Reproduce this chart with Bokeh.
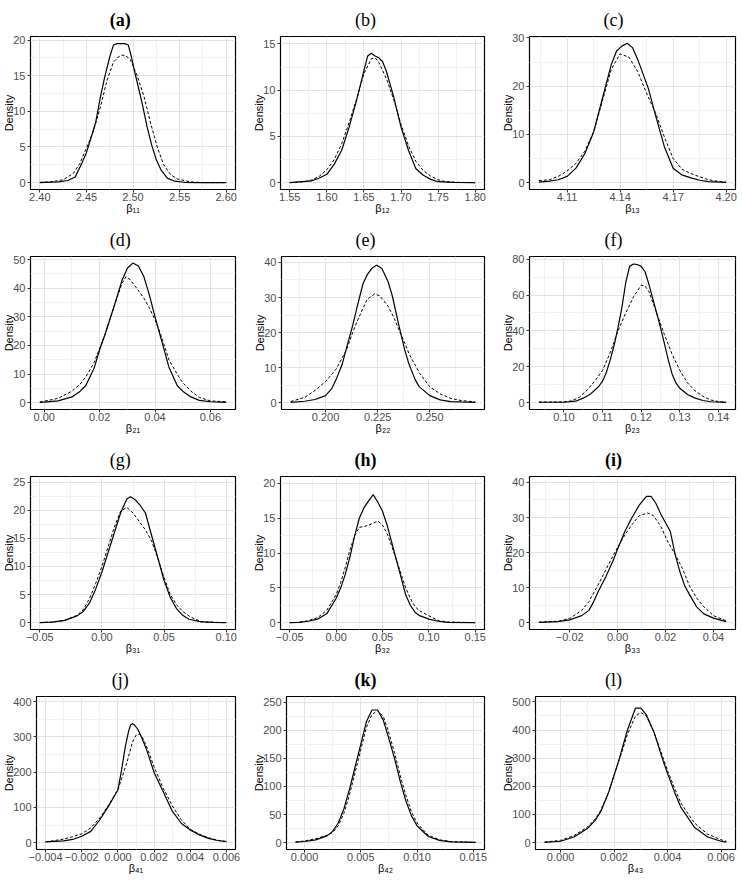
from bokeh.plotting import figure
from bokeh.layouts import column, row
from bokeh.models import Range1d, FixedTicker
from bokeh.embed import file_html
from bokeh.resources import INLINE

# ---------------- data ----------------
panel_titles = ["(a)", "(b)", "(c)", "(d)", "(e)", "(f)", "(g)", "(h)", "(i)", "(j)", "(k)", "(l)"]
title_bold = [True, False, False, False, False, False, False, True, True, False, True, False]
x_labels = ["β₁₁", "β₁₂", "β₁₃", "β₂₁", "β₂₂", "β₂₃", "β₃₁", "β₃₂", "β₃₃", "β₄₁", "β₄₂", "β₄₃"]

a_solid_x = [2.400, 2.420, 2.430, 2.438, 2.445, 2.450, 2.455, 2.460, 2.465, 2.470, 2.475, 2.479, 2.483, 2.487, 2.491, 2.495, 2.498, 2.501, 2.505, 2.510, 2.515, 2.520, 2.525, 2.530, 2.537, 2.545, 2.555, 2.570, 2.600]
a_solid_y = [0.0, 0.1, 0.3, 0.8, 2.7, 4.2, 6.3, 8.5, 12.0, 15.0, 17.6, 19.3, 19.5, 19.5, 19.5, 19.3, 17.8, 16.0, 13.8, 11.0, 7.9, 5.3, 3.2, 1.8, 0.6, 0.2, 0.05, 0.0, 0.0]
a_dash_x = [2.400, 2.411, 2.425, 2.436, 2.443, 2.4505, 2.4577, 2.465, 2.472, 2.479, 2.484, 2.488, 2.492, 2.497, 2.5045, 2.512, 2.519, 2.526, 2.533, 2.5405, 2.548, 2.555, 2.562, 2.575, 2.600]
a_dash_y = [0.05, 0.1, 0.4, 1.3, 2.7, 5.0, 7.3, 10.6, 14.3, 16.9, 17.6, 17.9, 17.8, 17.3, 15.0, 12.0, 8.3, 5.0, 2.5, 1.1, 0.5, 0.3, 0.1, 0.0, 0.0]

b_solid_x = [1.55, 1.58, 1.59, 1.60, 1.61, 1.62, 1.63, 1.64, 1.65, 1.655, 1.66, 1.665, 1.67, 1.675, 1.68, 1.69, 1.70, 1.71, 1.72, 1.73, 1.74, 1.75, 1.77, 1.80]
b_solid_y = [0.0, 0.2, 0.5, 0.9, 2.0, 3.5, 6.0, 8.9, 12.1, 13.7, 14.0, 13.7, 13.5, 13.1, 12.1, 9.3, 6.0, 3.5, 1.5, 0.8, 0.35, 0.1, 0.02, 0.0]
b_dash_x = [1.55, 1.57, 1.58, 1.59, 1.60, 1.61, 1.62, 1.63, 1.64, 1.65, 1.66, 1.665, 1.67, 1.68, 1.69, 1.70, 1.71, 1.72, 1.73, 1.74, 1.75, 1.76, 1.78, 1.80]
b_dash_y = [0.0, 0.1, 0.3, 0.7, 1.4, 2.5, 4.2, 6.5, 9.0, 11.8, 13.4, 13.5, 13.0, 11.3, 9.0, 6.3, 4.0, 2.3, 1.3, 0.7, 0.3, 0.1, 0.02, 0.0]

c_solid_x = [4.094, 4.100, 4.105, 4.110, 4.115, 4.120, 4.125, 4.130, 4.135, 4.138, 4.141, 4.144, 4.147, 4.150, 4.153, 4.156, 4.160, 4.165, 4.170, 4.175, 4.180, 4.185, 4.190, 4.200]
c_solid_y = [0.1, 0.3, 0.6, 1.3, 3.0, 6.0, 10.5, 17.5, 24.5, 27.3, 28.3, 28.9, 28.0, 25.5, 22.5, 19.5, 14.0, 7.5, 3.0, 1.6, 1.0, 0.5, 0.2, 0.05]
c_dash_x = [4.094, 4.100, 4.105, 4.110, 4.115, 4.120, 4.125, 4.130, 4.135, 4.140, 4.145, 4.150, 4.155, 4.160, 4.165, 4.170, 4.175, 4.180, 4.185, 4.190, 4.195, 4.200]
c_dash_y = [0.4, 0.6, 1.3, 2.4, 4.0, 6.5, 10.5, 17.0, 23.5, 26.7, 26.0, 23.0, 18.5, 14.5, 9.5, 5.0, 2.8, 1.9, 1.2, 0.6, 0.3, 0.1]

d_solid_x = [-0.0016, 0.000, 0.005, 0.010, 0.013, 0.015, 0.018, 0.020, 0.022, 0.025, 0.028, 0.030, 0.032, 0.034, 0.036, 0.038, 0.040, 0.042, 0.045, 0.048, 0.050, 0.053, 0.056, 0.060, 0.0657]
d_solid_y = [0.1, 0.2, 0.6, 2.0, 4.0, 6.0, 12.0, 18.5, 24.0, 33.0, 42.5, 47.0, 48.8, 47.8, 44.0, 37.5, 30.0, 23.0, 12.5, 6.0, 4.0, 2.0, 0.8, 0.3, 0.1]
d_dash_x = [-0.0016, 0.000, 0.005, 0.010, 0.013, 0.015, 0.018, 0.020, 0.022, 0.025, 0.028, 0.0295, 0.031, 0.033, 0.036, 0.038, 0.040, 0.042, 0.045, 0.048, 0.050, 0.053, 0.056, 0.060, 0.0657]
d_dash_y = [0.2, 0.5, 1.5, 4.0, 6.5, 9.0, 14.0, 19.0, 24.0, 33.0, 41.5, 44.0, 43.0, 40.5, 36.5, 33.0, 29.0, 24.0, 15.0, 10.0, 7.0, 4.0, 1.8, 0.6, 0.3]

e_solid_x = [0.1833, 0.190, 0.195, 0.200, 0.203, 0.205, 0.208, 0.210, 0.213, 0.215, 0.218, 0.220, 0.2225, 0.2245, 0.227, 0.230, 0.232, 0.235, 0.238, 0.240, 0.243, 0.245, 0.250, 0.255, 0.260, 0.265, 0.2718]
e_solid_y = [0.1, 0.4, 0.9, 2.0, 4.0, 6.5, 11.0, 15.5, 22.0, 27.0, 34.0, 36.5, 38.5, 39.2, 38.3, 34.5, 30.5, 22.5, 15.0, 11.0, 6.5, 4.5, 2.0, 0.8, 0.3, 0.2, 0.1]
e_dash_x = [0.1833, 0.190, 0.195, 0.200, 0.205, 0.210, 0.213, 0.215, 0.218, 0.220, 0.2235, 0.226, 0.230, 0.233, 0.235, 0.238, 0.240, 0.245, 0.250, 0.255, 0.260, 0.265, 0.2718]
e_dash_y = [0.3, 1.5, 3.5, 6.0, 9.5, 15.0, 20.0, 23.0, 27.0, 29.5, 31.0, 30.5, 27.5, 24.0, 21.0, 17.0, 14.0, 8.5, 4.5, 2.5, 1.2, 0.6, 0.2]

f_solid_x = [0.0935, 0.100, 0.103, 0.105, 0.107, 0.109, 0.110, 0.111, 0.112, 0.113, 0.114, 0.115, 0.116, 0.117, 0.118, 0.119, 0.120, 0.121, 0.122, 0.123, 0.124, 0.125, 0.126, 0.127, 0.128, 0.129, 0.130, 0.132, 0.134, 0.136, 0.138, 0.142]
f_solid_y = [0.2, 0.2, 0.8, 2.5, 5.0, 9.0, 12.0, 17.0, 24.0, 32.0, 42.0, 53.0, 67.0, 76.0, 77.3, 77.0, 76.0, 73.0, 66.0, 58.0, 50.0, 42.0, 33.0, 24.0, 16.0, 11.0, 8.0, 4.5, 2.5, 1.2, 0.5, 0.1]
f_dash_x = [0.0935, 0.100, 0.102, 0.104, 0.106, 0.108, 0.110, 0.112, 0.114, 0.116, 0.118, 0.120, 0.121, 0.122, 0.124, 0.126, 0.128, 0.130, 0.132, 0.134, 0.136, 0.138, 0.140, 0.142]
f_dash_y = [0.3, 0.4, 1.0, 3.0, 7.0, 12.0, 18.0, 28.0, 40.0, 50.0, 59.0, 65.5, 65.0, 62.0, 50.0, 38.0, 27.0, 18.0, 11.0, 6.5, 3.5, 1.5, 0.6, 0.2]

g_solid_x = [-0.05, -0.04, -0.03, -0.02, -0.015, -0.01, -0.005, 0.00, 0.005, 0.01, 0.015, 0.02, 0.023, 0.027, 0.031, 0.035, 0.04, 0.045, 0.05, 0.055, 0.06, 0.065, 0.07, 0.08, 0.09, 0.10]
g_solid_y = [0.0, 0.1, 0.4, 1.2, 2.0, 3.5, 6.0, 9.0, 12.5, 16.0, 19.5, 22.0, 22.4, 21.8, 20.8, 19.5, 15.5, 11.5, 7.5, 4.5, 2.5, 1.3, 0.6, 0.15, 0.05, 0.0]
g_dash_x = [-0.05, -0.04, -0.03, -0.02, -0.015, -0.01, -0.005, 0.00, 0.005, 0.01, 0.015, 0.02, 0.025, 0.03, 0.035, 0.04, 0.045, 0.05, 0.055, 0.06, 0.065, 0.07, 0.075, 0.08, 0.09, 0.10]
g_dash_y = [0.0, 0.1, 0.4, 1.3, 2.3, 4.3, 7.0, 10.0, 13.5, 17.0, 19.8, 20.5, 19.5, 18.0, 16.5, 14.5, 11.5, 8.0, 5.0, 3.2, 2.0, 1.2, 0.6, 0.2, 0.05, 0.0]

h_solid_x = [-0.05, -0.04, -0.03, -0.02, -0.01, 0.00, 0.005, 0.01, 0.015, 0.02, 0.025, 0.03, 0.035, 0.04, 0.045, 0.05, 0.055, 0.06, 0.065, 0.07, 0.075, 0.08, 0.085, 0.09, 0.10, 0.11, 0.12, 0.15]
h_solid_y = [0.0, 0.05, 0.2, 0.5, 1.3, 3.5, 5.0, 7.0, 9.5, 12.5, 15.0, 16.5, 17.5, 18.4, 17.3, 16.0, 14.0, 11.5, 9.0, 6.5, 4.0, 2.5, 1.5, 1.0, 0.5, 0.2, 0.05, 0.0]
h_dash_x = [-0.05, -0.04, -0.03, -0.02, -0.01, 0.00, 0.005, 0.01, 0.015, 0.02, 0.025, 0.03, 0.035, 0.04, 0.045, 0.05, 0.055, 0.06, 0.065, 0.07, 0.075, 0.08, 0.085, 0.09, 0.10, 0.11, 0.12, 0.15]
h_dash_y = [0.0, 0.05, 0.3, 0.7, 1.8, 4.0, 5.8, 8.0, 10.5, 12.5, 13.7, 13.8, 14.0, 14.3, 14.6, 14.0, 12.8, 11.0, 9.0, 7.0, 5.0, 3.5, 2.3, 1.7, 1.0, 0.3, 0.1, 0.0]

i_solid_x = [-0.0329, -0.025, -0.02, -0.015, -0.012, -0.01, -0.008, -0.005, -0.002, 0.000, 0.003, 0.006, 0.009, 0.012, 0.014, 0.016, 0.018, 0.020, 0.022, 0.024, 0.026, 0.028, 0.030, 0.033, 0.036, 0.040, 0.0453]
i_solid_y = [0.1, 0.3, 0.8, 2.0, 3.5, 6.0, 9.0, 13.0, 17.5, 21.0, 26.0, 30.0, 33.5, 36.0, 36.0, 34.0, 31.0, 28.5, 26.0, 19.5, 14.5, 10.5, 8.0, 4.5, 2.5, 1.3, 0.3]
i_dash_x = [-0.0329, -0.025, -0.02, -0.015, -0.012, -0.01, -0.008, -0.005, -0.002, 0.000, 0.003, 0.006, 0.009, 0.0125, 0.015, 0.018, 0.021, 0.024, 0.027, 0.030, 0.033, 0.036, 0.040, 0.0453]
i_dash_y = [0.1, 0.4, 1.2, 3.5, 6.0, 8.5, 11.0, 15.0, 19.0, 21.5, 25.0, 28.0, 30.5, 31.3, 30.5, 27.5, 23.0, 19.5, 15.5, 10.5, 7.0, 4.5, 2.0, 0.5]

j_solid_x = [-0.004, -0.003, -0.0025, -0.002, -0.0015, -0.001, -0.0005, 0.0, 0.0002, 0.0004, 0.0005, 0.0006, 0.0007, 0.0008, 0.0009, 0.0011, 0.0013, 0.0016, 0.002, 0.0025, 0.003, 0.0035, 0.004, 0.0045, 0.005, 0.0055, 0.006]
j_solid_y = [2, 5, 9, 18, 32, 65, 105, 150, 205, 270, 295, 318, 334, 338, 335, 322, 300, 262, 199, 145, 90, 55, 36, 22, 12, 6, 3]
j_dash_x = [-0.004, -0.003, -0.0025, -0.002, -0.0015, -0.001, -0.0005, 0.0, 0.0005, 0.0008, 0.001, 0.0012, 0.0014, 0.0017, 0.002, 0.0025, 0.003, 0.0035, 0.004, 0.0045, 0.005, 0.0055, 0.006]
j_dash_y = [2, 10, 17, 25, 42, 70, 108, 150, 228, 285, 305, 308, 295, 258, 215, 155, 105, 65, 38, 24, 14, 7, 3]

k_solid_x = [-0.0008, 0.000, 0.001, 0.002, 0.0025, 0.003, 0.0035, 0.004, 0.0045, 0.005, 0.0055, 0.006, 0.0065, 0.007, 0.0075, 0.008, 0.0085, 0.009, 0.0095, 0.010, 0.011, 0.012, 0.013, 0.0152]
k_solid_y = [1, 2, 5, 12, 20, 35, 60, 95, 135, 175, 215, 236, 236, 218, 185, 150, 110, 75, 48, 30, 11, 4, 1.5, 0.5]
k_dash_x = [-0.0008, 0.000, 0.001, 0.002, 0.0025, 0.003, 0.0035, 0.004, 0.0045, 0.005, 0.0055, 0.006, 0.0065, 0.007, 0.0075, 0.008, 0.0085, 0.009, 0.0095, 0.010, 0.011, 0.012, 0.013, 0.0152]
k_dash_y = [1, 3, 7, 13, 18, 30, 52, 85, 125, 165, 205, 228, 235, 225, 195, 160, 120, 85, 55, 35, 13, 5, 2, 0.5]

l_solid_x = [-0.0006, 0.000, 0.0005, 0.001, 0.0013, 0.0015, 0.0018, 0.002, 0.0022, 0.0025, 0.0028, 0.003, 0.0032, 0.0035, 0.0038, 0.004, 0.0043, 0.0045, 0.005, 0.0055, 0.006, 0.0062]
l_solid_y = [1, 5, 20, 50, 80, 110, 180, 240, 300, 400, 478, 478, 455, 390, 300, 245, 170, 125, 55, 20, 5, 2]
l_dash_x = [-0.0006, 0.000, 0.0005, 0.001, 0.0013, 0.0015, 0.0018, 0.002, 0.0022, 0.0025, 0.0028, 0.0030, 0.0032, 0.0035, 0.0038, 0.004, 0.0043, 0.0045, 0.005, 0.0055, 0.006, 0.0062]
l_dash_y = [2, 8, 25, 55, 85, 115, 180, 240, 295, 385, 450, 462, 450, 390, 310, 255, 185, 140, 70, 30, 10, 5]

solid_x = [a_solid_x, b_solid_x, c_solid_x, d_solid_x, e_solid_x, f_solid_x, g_solid_x, h_solid_x, i_solid_x, j_solid_x, k_solid_x, l_solid_x]
solid_y = [a_solid_y, b_solid_y, c_solid_y, d_solid_y, e_solid_y, f_solid_y, g_solid_y, h_solid_y, i_solid_y, j_solid_y, k_solid_y, l_solid_y]
dash_x = [a_dash_x, b_dash_x, c_dash_x, d_dash_x, e_dash_x, f_dash_x, g_dash_x, h_dash_x, i_dash_x, j_dash_x, k_dash_x, l_dash_x]
dash_y = [a_dash_y, b_dash_y, c_dash_y, d_dash_y, e_dash_y, f_dash_y, g_dash_y, h_dash_y, i_dash_y, j_dash_y, k_dash_y, l_dash_y]

y_tops = [20.5, 15.8, 30.3, 51.1, 41.7, 81.5, 26.0, 21.0, 41.7, 415, 260, 519]

x_ticks = [
    [2.40, 2.45, 2.50, 2.55, 2.60],
    [1.55, 1.60, 1.65, 1.70, 1.75, 1.80],
    [4.11, 4.14, 4.17, 4.20],
    [0.00, 0.02, 0.04, 0.06],
    [0.200, 0.225, 0.250],
    [0.10, 0.11, 0.12, 0.13, 0.14],
    [-0.05, 0.00, 0.05, 0.10],
    [-0.05, 0.00, 0.05, 0.10, 0.15],
    [-0.02, 0.00, 0.02, 0.04],
    [-0.004, -0.002, 0.000, 0.002, 0.004, 0.006],
    [0.000, 0.005, 0.010, 0.015],
    [0.000, 0.002, 0.004, 0.006],
]
x_tick_labels = [
    ["2.40", "2.45", "2.50", "2.55", "2.60"],
    ["1.55", "1.60", "1.65", "1.70", "1.75", "1.80"],
    ["4.11", "4.14", "4.17", "4.20"],
    ["0.00", "0.02", "0.04", "0.06"],
    ["0.200", "0.225", "0.250"],
    ["0.10", "0.11", "0.12", "0.13", "0.14"],
    ["−0.05", "0.00", "0.05", "0.10"],
    ["−0.05", "0.00", "0.05", "0.10", "0.15"],
    ["−0.02", "0.00", "0.02", "0.04"],
    ["−0.004", "−0.002", "0.000", "0.002", "0.004", "0.006"],
    ["0.000", "0.005", "0.010", "0.015"],
    ["0.000", "0.002", "0.004", "0.006"],
]
y_ticks = [
    [0, 5, 10, 15, 20],
    [0, 5, 10, 15],
    [0, 10, 20, 30],
    [0, 10, 20, 30, 40, 50],
    [0, 10, 20, 30, 40],
    [0, 20, 40, 60, 80],
    [0, 5, 10, 15, 20, 25],
    [0, 5, 10, 15, 20],
    [0, 10, 20, 30, 40],
    [0, 100, 200, 300, 400],
    [0, 50, 100, 150, 200, 250],
    [0, 100, 200, 300, 400, 500],
]

# ---------------- layout / style ----------------
COL_W = [247, 247, 248]
ROW_H = 220
RIGHT = [12, 10, 7]
LEFT = [30, 33, 35, 30, 34, 35, 30, 33, 35, 36, 39, 41]   # frame left inside each cell
TITLE_CENTER = [120, 118, 119]                            # title centre inside each cell
TITLE_PX = 18
LETTER_EM = {"a": 0.5, "b": 0.5, "c": 0.444, "d": 0.5, "e": 0.444, "f": 0.333,
             "g": 0.5, "h": 0.5, "i": 0.278, "j": 0.278, "k": 0.5, "l": 0.278}
LETTER_EM_BOLD = {"a": 0.5, "h": 0.556, "i": 0.278, "k": 0.556}


def minors(ticks, lo, hi):
    step = ticks[1] - ticks[0]
    out = [ticks[0] - step / 2] + [(a + b) / 2 for a, b in zip(ticks[:-1], ticks[1:])] + [ticks[-1] + step / 2]
    return [m for m in out if lo <= m <= hi]


def make_panel(i):
    col = i % 3
    xs, ys, xd, yd = solid_x[i], solid_y[i], dash_x[i], dash_y[i]
    lo = min(min(xs), min(xd))
    hi = max(max(xs), max(xd))
    pad = 0.05 * (hi - lo)
    x0, x1 = lo - pad, hi + pad
    top = y_tops[i]
    y0 = -0.047 * top

    # estimated space the y axis needs (ticks + labels + title)
    ndig = max(len(str(t)) for t in y_ticks[i])
    need = 18 + 6.1 * ndig
    frame_left = max(LEFT[i], need)

    p = figure(width=COL_W[col], height=ROW_H, output_backend="svg", toolbar_location=None,
               x_range=Range1d(x0, x1), y_range=Range1d(y0, top),
               min_border_left=LEFT[i], min_border_right=RIGHT[col],
               min_border_top=36, min_border_bottom=31)

    letter = panel_titles[i][1]
    em = (LETTER_EM_BOLD if title_bold[i] else LETTER_EM)[letter] + 0.666
    tw = em * TITLE_PX
    p.title.text = panel_titles[i]
    p.title.align = "left"
    p.title.offset = TITLE_CENTER[col] - frame_left - tw / 2
    p.title.text_font = "Liberation Serif"
    p.title.text_font_size = f"{TITLE_PX}px"
    p.title.text_font_style = "bold" if title_bold[i] else "normal"
    p.title.text_color = "black"
    p.title.standoff = 14

    p.background_fill_color = "white"
    p.border_fill_color = "white"
    p.outline_line_color = "black"
    p.outline_line_width = 1.2
    p.outline_line_alpha = 1.0

    xt = x_ticks[i]
    yt = y_ticks[i]
    p.xaxis.ticker = FixedTicker(ticks=xt, minor_ticks=minors(xt, x0, x1))
    p.yaxis.ticker = FixedTicker(ticks=yt, minor_ticks=minors(yt, y0, top))
    p.xaxis.major_label_overrides = {t: s for t, s in zip(xt, x_tick_labels[i])}

    for ax in (p.xaxis[0], p.yaxis[0]):
        ax.axis_line_color = None
        ax.major_tick_out = 3
        ax.major_tick_in = 0
        ax.major_tick_line_color = "#333333"
        ax.minor_tick_out = 0
        ax.minor_tick_in = 0
        ax.major_label_text_font = "Liberation Sans"
        ax.major_label_text_font_size = "11px"
        ax.major_label_text_color = "#4d4d4d"
        ax.axis_label_text_font = "Liberation Sans"
        ax.axis_label_text_font_size = "11px"
        ax.axis_label_text_font_style = "normal"
        ax.axis_label_text_color = "black"

    p.yaxis.major_label_standoff = 2
    p.yaxis.axis_label_standoff = -5
    p.xaxis.major_label_standoff = 0
    p.xaxis.axis_label_standoff = -2

    p.xaxis.axis_label = x_labels[i]
    p.yaxis.axis_label = "Density"

    for g in (p.xgrid[0], p.ygrid[0]):
        g.grid_line_color = "#e3e3e3"
        g.grid_line_width = 1
        g.minor_grid_line_color = "#f0f0f0"
        g.minor_grid_line_width = 1

    p.line(xd, yd, line_color="black", line_width=1.0, line_dash="3 2")
    p.line(xs, ys, line_color="black", line_width=1.2)
    return p


panels = [make_panel(i) for i in range(12)]
layout = column(row(*panels[0:3]), row(*panels[3:6]), row(*panels[6:9]), row(*panels[9:12]))

open("out.html", "w").write(file_html(layout, INLINE))
